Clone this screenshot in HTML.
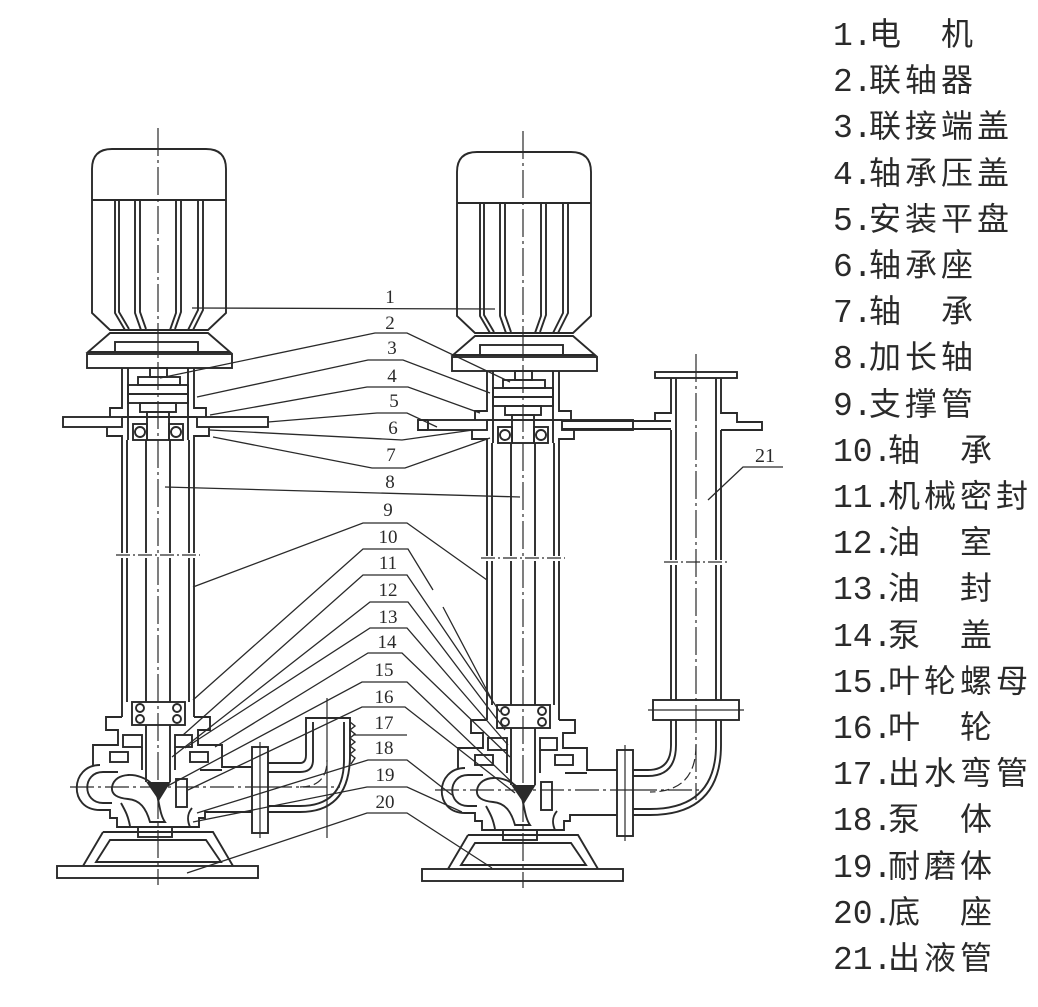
<!DOCTYPE html>
<html><head><meta charset="utf-8">
<style>
html,body{margin:0;padding:0;background:#fff;}
svg{display:block;}
.d{font-family:"Liberation Mono",monospace;font-size:33px;fill:#2a2a2a;}
.c{font-family:"Noto Sans CJK SC","WenQuanYi Zen Hei",sans-serif;font-size:32px;letter-spacing:4px;fill:#2a2a2a;}
.n{font-family:"Liberation Serif",serif;font-size:19px;fill:#2a2a2a;text-anchor:middle;}
</style></head>
<body>
<svg width="1038" height="1007" viewBox="0 0 1038 1007" xmlns="http://www.w3.org/2000/svg">
<defs>
<g id="pump" fill="none" stroke="#2a2a2a" stroke-width="1.9">
 <!-- motor -->
 <path d="M92,313 V169 Q92,149 112,149 H206 Q226,149 226,169 V313 L208,330 H110 Z"/>
 <line x1="92" y1="200" x2="226" y2="200"/>
 <path d="M115,200 V313 L125,330 M119,200 V312 L129,329"/>
 <path d="M135,200 V313 L141,330 M140,200 V312 L146,329"/>
 <path d="M176,200 V313 L170,330 M181,200 V312 L175,329"/>
 <path d="M198,200 V310 L188,330 M203,200 V310 L193,330"/>
 <!-- motor flange -->
 <path d="M110,333 H208 L230,352 H88 Z"/>
 <rect x="115" y="342" width="83" height="10"/>
 <rect x="87" y="354" width="145" height="14"/>
 <!-- housing -->
 <path d="M122,368 V408 H110 V417"/>
 <path d="M194,368 V408 H206 V417"/>
 <path d="M128,368 V440 M188,368 V440"/>
 <rect x="63" y="417" width="59" height="10"/>
 <rect x="197" y="417" width="71" height="10"/>
 <path d="M122,417 H197"/>
 <path d="M107,427 V436 H122 V442"/>
 <path d="M209,427 V436 H194 V442"/>
 <!-- coupling -->
 <rect x="150" y="368" width="17" height="9"/>
 <rect x="138" y="377" width="42" height="8"/>
 <rect x="128" y="385" width="60" height="9"/>
 <rect x="128" y="394" width="60" height="9"/>
 <rect x="140" y="403" width="36" height="9"/>
 <rect x="147" y="412" width="22" height="28"/>
 <!-- bearings -->
 <rect x="133" y="424" width="14" height="16"/>
 <rect x="169" y="424" width="14" height="16"/>
 <circle cx="140" cy="432" r="5"/>
 <circle cx="176" cy="432" r="5"/>
 <!-- support pipe -->
 <path d="M122,442 V553 M127,440 V553 M189,440 V553 M194,442 V553"/>
 <path d="M122,558 V717 M127,558 V702 M189,558 V702 M194,558 V717"/>
 <path d="M146,440 V553 M170,440 V553 M146,558 V702 M170,558 V702"/>
 <line x1="116" y1="555" x2="200" y2="555" stroke-width="1.3" stroke-dasharray="14,3,2,3"/>
 <!-- lower bearing box -->
 <rect x="132" y="702" width="53" height="23"/>
 <circle cx="140" cy="708" r="4"/><circle cx="140" cy="719" r="4"/>
 <circle cx="177" cy="708" r="4"/><circle cx="177" cy="719" r="4"/>
 <path d="M146,725 V782 M170,725 V782"/>
 <!-- pump cover / casing -->
 <path d="M122,717 H106 V730 H118 V745 H93 V765"/>
 <path d="M194,717 H210 V730 H198 V745 H222 V767 H252"/>
 <rect x="123" y="735" width="19" height="12"/>
 <rect x="175" y="735" width="17" height="12"/>
 <rect x="110" y="752" width="18" height="10"/>
 <rect x="190" y="752" width="18" height="10"/>
 <path d="M142,747 V770 M175,747 V770"/>
 <!-- volute -->
 <path d="M100,765 C70,765 68,810 100,810"/>
 <path d="M103,772 C82,772 82,803 103,803 H112"/>
 <path d="M103,772 H118 M200,770 H222"/>
 <path d="M100,810 H110 V818 H117 V827 H199 V818 H205 V812 H252"/>
 <!-- impeller -->
 <path d="M112,787 C115,771 140,772 152,784 C160,795 158,812 165,822 H150 C146,808 140,800 128,799 C118,798 111,795 112,787 Z"/>
 <rect x="176" y="779" width="11" height="28"/>
 <path d="M148,783 L169,783 L159,799 Z" fill="#2a2a2a"/>
 <path d="M121,803 C126,812 128,816 130,826 M192,808 C187,814 187,820 190,827"/>
 <!-- base -->
 <rect x="138" y="827" width="34" height="10"/>
 <path d="M103,832 H213 L233,866 M103,832 L83,866"/>
 <path d="M110,840 H206 L221,862 H96 Z"/>
 <rect x="57" y="866" width="201" height="12"/>
 <!-- outlet flange -->
 <rect x="252" y="747" width="16" height="86"/>
 <!-- centerlines -->
 <line x1="158" y1="128" x2="158" y2="885" stroke-width="1.2" stroke-dasharray="28,4,3,4"/>
 <line x1="70" y1="787" x2="268" y2="787" stroke-width="1.2" stroke-dasharray="24,4,3,4"/>
 <line x1="260" y1="742" x2="260" y2="838" stroke-width="1.2"/>
</g>
</defs>

<use href="#pump"/>
<use href="#pump" transform="translate(365,3)"/>

<g fill="none" stroke="#2a2a2a" stroke-width="1.9">
 <!-- extra left plate length for right pump -->
 <path d="M428,420 H418 V430 H428"/>
 <!-- left threaded elbow -->
 <path d="M268,763 H300 Q306,763 306,755 V718 H350 V755 Q350,812 300,812 H268"/>
 <path d="M313,722 V760 Q313,772 300,772 H268"/>
 <path d="M344,722 V760 Q344,806 300,806 H268"/>
 <path d="M350,722 L355,726 L350,730 L355,734 L350,738 L355,742 L350,746 L355,750 L350,754 L355,758 L351,764" stroke-width="1.4"/>
 <line x1="327" y1="698" x2="327" y2="838" stroke-width="1.2"/>
 <line x1="268" y1="787" x2="340" y2="787" stroke-width="1.2" stroke-dasharray="24,4,3,4"/>
 <path d="M300,787 Q327,787 327,760" stroke-width="1.2" stroke-dasharray="10,4"/>

 <!-- right outlet elbow to pipe 21 -->
 <path d="M633,770 H648 Q671,770 671,745 V720"/>
 <path d="M633,776 H648 Q676,776 676,745 V720"/>
 <path d="M633,815 H650 Q721,815 721,745 V720"/>
 <path d="M633,809 H650 Q716,809 716,745 V720"/>
 <line x1="633" y1="790" x2="700" y2="790" stroke-width="1.2" stroke-dasharray="24,4,3,4"/>
 <path d="M696,745 Q696,792 650,792" stroke-width="1.2" stroke-dasharray="10,4"/>
 <!-- bottom flange of 21 -->
 <rect x="653" y="700" width="86" height="20"/>
 <line x1="648" y1="710" x2="744" y2="710" stroke-width="1.2"/>
 <!-- pipe 21 -->
 <path d="M671,430 V560 M676,378 V560 M716,378 V560 M721,430 V560"/>
 <path d="M671,565 V700 M676,565 V700 M716,565 V700 M721,565 V700"/>
 <line x1="664" y1="562" x2="728" y2="562" stroke-width="1.3" stroke-dasharray="14,3,2,3"/>
 <rect x="655" y="372" width="82" height="6"/>
 <path d="M671,378 V413 H655 V422"/>
 <path d="M721,378 V413 H737 V422 H762 V430 H721"/>
 <path d="M562,421 H671 M562,429 H671"/>
 <line x1="696" y1="354" x2="696" y2="800" stroke-width="1.2" stroke-dasharray="28,4,3,4"/>
</g>

<!-- leader lines -->
<g fill="none" stroke="#2a2a2a" stroke-width="1.3">
 <path d="M192,308 L495,309"/>
 <path d="M160,378 L375,333 H407 L510,382"/>
 <path d="M197,397 L368,360 H403 L490,393"/>
 <path d="M210,415 L367,387 H408 L480,413"/>
 <path d="M268,422 L377,413 H407 L437,427"/>
 <path d="M210,430 L402,440 L473,430"/>
 <path d="M213,437 L372,468 H405 L490,438"/>
 <path d="M165,487 L520,497"/>
 <path d="M193,587 L363,523 H407 L487,580"/>
 <path d="M193,700 L363,549 H408 L433,590 M443,607 L492,700"/>
 <path d="M183,735 L363,575 H407 L500,712"/>
 <path d="M172,757 L370,602 H408 L505,730"/>
 <path d="M185,748 L370,628 H407 L508,745"/>
 <path d="M215,747 L368,653 H402 L510,757"/>
 <path d="M160,790 L362,682 H407 L520,790"/>
 <path d="M188,790 L362,707 H405 L515,793"/>
 <path d="M353,735 H407"/>
 <path d="M197,813 L368,760 H407 L452,795"/>
 <path d="M193,822 L367,787 H407 L462,812"/>
 <path d="M187,873 L367,813 H407 L492,868"/>
 <path d="M708,500 L743,467 H783"/>
</g>

<!-- part numbers -->
<g>
 <text class="n" x="390" y="303">1</text>
 <text class="n" x="390" y="329">2</text>
 <text class="n" x="392" y="354">3</text>
 <text class="n" x="392" y="382">4</text>
 <text class="n" x="394" y="407">5</text>
 <text class="n" x="393" y="434">6</text>
 <text class="n" x="391" y="461">7</text>
 <text class="n" x="390" y="488">8</text>
 <text class="n" x="388" y="516">9</text>
 <text class="n" x="388" y="543">10</text>
 <text class="n" x="388" y="569">11</text>
 <text class="n" x="388" y="596">12</text>
 <text class="n" x="388" y="623">13</text>
 <text class="n" x="387" y="648">14</text>
 <text class="n" x="384" y="676">15</text>
 <text class="n" x="384" y="703">16</text>
 <text class="n" x="384" y="729">17</text>
 <text class="n" x="384" y="754">18</text>
 <text class="n" x="385" y="781">19</text>
 <text class="n" x="385" y="808">20</text>
 <text class="n" x="765" y="462" style="font-size:20px">21</text>
</g>

<!-- legend -->
<g>
 <text class="d" x="833" y="45">1.</text><text class="c" x="869" y="45">电　机</text>
 <text class="d" x="833" y="91">2.</text><text class="c" x="869" y="91">联轴器</text>
 <text class="d" x="833" y="137">3.</text><text class="c" x="869" y="137">联接端盖</text>
 <text class="d" x="833" y="184">4.</text><text class="c" x="869" y="184">轴承压盖</text>
 <text class="d" x="833" y="230">5.</text><text class="c" x="869" y="230">安装平盘</text>
 <text class="d" x="833" y="276">6.</text><text class="c" x="869" y="276">轴承座</text>
 <text class="d" x="833" y="322">7.</text><text class="c" x="869" y="322">轴　承</text>
 <text class="d" x="833" y="368">8.</text><text class="c" x="869" y="368">加长轴</text>
 <text class="d" x="833" y="415">9.</text><text class="c" x="869" y="415">支撑管</text>
 <text class="d" x="833" y="461">10.</text><text class="c" x="888" y="461">轴　承</text>
 <text class="d" x="833" y="507">11.</text><text class="c" x="888" y="507">机械密封</text>
 <text class="d" x="833" y="553">12.</text><text class="c" x="888" y="553">油　室</text>
 <text class="d" x="833" y="599">13.</text><text class="c" x="888" y="599">油　封</text>
 <text class="d" x="833" y="646">14.</text><text class="c" x="888" y="646">泵　盖</text>
 <text class="d" x="833" y="692">15.</text><text class="c" x="888" y="692">叶轮螺母</text>
 <text class="d" x="833" y="738">16.</text><text class="c" x="888" y="738">叶　轮</text>
 <text class="d" x="833" y="784">17.</text><text class="c" x="888" y="784">出水弯管</text>
 <text class="d" x="833" y="830">18.</text><text class="c" x="888" y="830">泵　体</text>
 <text class="d" x="833" y="877">19.</text><text class="c" x="888" y="877">耐磨体</text>
 <text class="d" x="833" y="923">20.</text><text class="c" x="888" y="923">底　座</text>
 <text class="d" x="833" y="969">21.</text><text class="c" x="888" y="969">出液管</text>
</g>
</svg>
</body></html>
